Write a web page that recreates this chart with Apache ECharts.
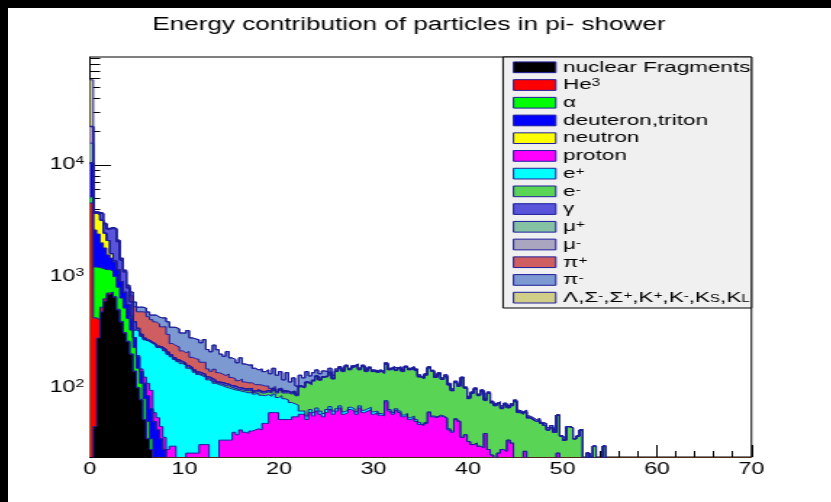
<!DOCTYPE html>
<html><head><meta charset="utf-8">
<script src="https://cdn.jsdelivr.net/npm/echarts@6/dist/echarts.min.js"></script>
<style>
html,body{margin:0;padding:0;background:#fff;width:831px;height:502px;overflow:hidden;}
#stripL{position:absolute;left:0;top:0;width:8px;height:502px;background:#000;}
#stripT{position:absolute;left:0;top:0;width:831px;height:8px;background:#000;}
#chart{position:absolute;left:8px;top:8px;width:553px;height:494px;transform:scaleX(1.45);transform-origin:0 0;}
</style></head>
<body><div id="stripL"></div><div id="stripT"></div><div id="chart"></div>
<script>
// ---- data (per-bin contributions, bin width 0.35, bins starting at 0) ----
const TITLE = 'Energy contribution of particles in pi- shower';
const X_TICKS = [0, 10, 20, 30, 40, 50, 60, 70];
const Y_MAJOR_TICKS = [100, 1000, 10000];
const Y_MINOR_TICKS = [30,40,50,60,70,80,90,200,300,400,500,600,700,800,900,2000,3000,4000,5000,6000,7000,8000,9000,20000,30000,40000,50000,60000,70000,80000,90000];
const SERIES_NAMES = ['nuclear Fragments','He3','α','deuteron,triton','neutron','proton','e+','e-','γ','μ+','μ-','π+','π-','Λ,Σ-,Σ+,K+,K-,KS,KL'];
const LEGEND_LABELS = ['nuclear Fragments','He{sup|3}','α','deuteron,triton','neutron','proton','e{sup|+}','e{sup|-}','γ','μ{sup|+}','μ{sup|-}','π{sup|+}','π{sup|-}','Λ,Σ{sup|-},Σ{sup|+},K{sup|+},K{sup|-},K{sub|S},K{sub|L}'];

const nuclearFragments = [0,45,280,480,600,690,710,650,500,390,310,260,200,140,100,78,52,35,28];
const he3 = [4560,380,130,50,30,20,15,10,8,5,4,3,2,2,1,1];
const alpha = [600,791,790,650,520,440,395,340,292,245,206,157,128,88,49,31,28,15,7];
const deuteronTriton = [5240,1394,1200,820,650,410,340,350,340,260,200,140,90,50,40,30,30,35,30,50,42,35,28];
const neutron = [0,1100,1200,1200,650,540,140,30,10];
const proton = [
 0,0,0,0,0,0,0,0,0,0,
 0,0,0,3,5,8,15,25,30,10,
 12,10,8,28,30,30,22,22,20,26,
 26,26,26,31,31,31,15,15,15,34,
 34,34,34,40,38,42,40,39,41,42,
 43,42,48,48,60,60,60,52,52,52,
 52,55,55,58,58,52,60,56,62,58,
 55,60,64,58,62,66,58,60,64,62,
 58,66,60,62,64,58,60,57,56,75,
 62,58,63,60,55,57,52,54,50,47,
 46,48,60,55,54,56,55,53,42,40,
 52,50,36,38,33,31,32,30,29,39,
 28,25,0,26,28,27,34,32,0,0,
 0,27,0,0,0,0,0,0,0,0,
 0,26];
const ePlus = [
 0,0,0,0,0,0,0,0,0,0,
 0,0,20,47,125,142,145,150,155,180,
 176,180,179,172,160,150,150,143,140,124,
 119,112,106,97,94,87,100,95,92,71,
 68,66,64,56,57,51,52,51,51,46,
 47,44,37,39,24,28,22,33,28,26,
 22,17,15,4,4,4,4,4,4,4,
 4,4,4,4,3,3,3,3,3,3,
 3,3,3,3,3,3,2,2,2,2,
 2,2,2,2,2,2,2,2,2,2,
 1,1,1,1,1,1,1,1,1,1,1];
const eMinus = [
 0,0,0,0,0,0,0,0,0,0,
 0,0,0,2,3,3,4,3,3,3,
 2,3,3,4,3,3,2,3,3,4,
 3,3,2,3,4,3,3,3,2,3,
 3,4,3,3,2,3,3,4,3,3,
 3,4,5,5,6,7,8,10,10,12,
 14,18,15,40,38,55,43,55,60,55,
 65,62,68,58,75,80,79,92,78,88,
 98,76,92,75,83,79,75,81,77,86,
 81,90,78,88,83,94,91,94,91,76,
 74,81,90,85,69,76,63,72,63,53,
 58,53,86,61,47,58,65,55,64,38,
 61,48,69,46,37,43,32,37,75,60,
 58,34,54,52,50,51,48,46,42,44,
 40,31,37,34,45,44,35,37,42,20,
 26,0,30,0,0,30];
const gamma = [
 0,20,100,450,500,560,1100,1270,900,500,
 380,230,150,60,20,10,6,5,5,5,
 5,4,5,6,5,4,5,5,4,5,
 5,4,5,5,4,5,4,5,4,4,
 5,4,4,5,4,4,3,4,4,3,
 3,3,3,3,3,3,3,3,3,3,
 3,3,2,2,2,2,2,2,2,2,
 2,2,2,2,2,2,2,2,2,2,
 2,2,2,2,2,2,2,2,2,2,
 2,2,2,2,2,2,2,2,2,2,
 1,1,1,1,1,1,1,1,1,1,
 1,1,1,1,1,1,1,1,1,1,
 1,1,1,1,1,1,1,1,1,1,1];
const muPlus = [5300,8,5,4];
const muMinus = [6300,6,4,3];
const piPlus = [
 200,40,30,30,30,25,30,30,45,40,
 25,25,80,143,139,179,194,168,151,143,
 139,121,131,92,52,53,54,42,40,53,
 35,38,41,34,37,22,19,29,24,22,
 19,25,19,17,15,20,15,13,12,13,
 11,13,11,9,6,5,3,2,2,1,
 1,1,1];
const piMinus = [
 0,30,20,20,20,15,20,20,25,20,
 15,20,55,54,48,48,47,44,41,59,
 56,71,71,90,100,109,106,96,103,115,
 93,92,90,84,101,73,70,95,83,67,
 63,79,62,59,52,66,51,49,50,43,
 38,42,36,41,35,47,34,40,23,43,
 21,29,16,26,21,27,19,20,17,15,
 16,12,12,8,6,4,3,3,3,3,
 3,4,3,3,2,3,4,3,3,3,
 3,3,4,3,3,2,3,3,3,4,
 3,3,3,2,3,3,3,4,3,3,
 3,2,2,2,3,2,2,2,2,2,
 2,2,2,2,3,2,2,2,2,2,
 2,2,2,2,2,2,1,2,2,2,
 2];
const strangeHadrons = [35800,5,3,2];

// ---- styling ----
const FONT = 'Liberation Sans, Arial, Helvetica, sans-serif';
const OUTLINE = '#1e1e9c';
const FILLS = ['#000000','#ff0000','#00ff00','#0000ff','#ffff00','#ff00ff','#00ffff','#59d454','#5954d9','#85c2a3','#aba6bf','#cf5e61','#7d99d1','#d1cf87'];
const NBINS = 200, BIN_W = 0.35;

const layers = [nuclearFragments, he3, alpha, deuteronTriton, neutron, proton, ePlus, eMinus, gamma, muPlus, muMinus, piPlus, piMinus, strangeHadrons];
const cumulative = [];
let running = new Array(NBINS).fill(0);
layers.forEach(arr => { running = running.map((c, i) => c + (arr[i] || 0)); cumulative.push(running); });

const FLOOR = 0.1;
const seriesList = [];
for (let k = layers.length - 1; k >= 0; k--) {
  const c = cumulative[k];
  const pts = c.map((v, i) => [+(i * BIN_W).toFixed(2), v > 0 ? v : FLOOR]);
  pts.push([NBINS * BIN_W, c[NBINS - 1] > 0 ? c[NBINS - 1] : FLOOR]);
  seriesList.push({
    type: 'line', name: SERIES_NAMES[k], step: 'end', data: pts,
    showSymbol: false, symbol: 'none', clip: true, silent: true,
    color: FILLS[k],
    lineStyle: { color: OUTLINE, width: 1 },
    areaStyle: { color: FILLS[k], opacity: 1, origin: 'start' },
    emphasis: { disabled: true }
  });
}

const chart = echarts.init(document.getElementById('chart'), null, { renderer: 'canvas' });
chart.setOption({
  animation: false,
  backgroundColor: '#ffffff',
  title: {
    text: TITLE, left: 'center', top: 7, padding: 0,
    textStyle: { fontFamily: FONT, fontSize: 18, fontWeight: 'normal', color: '#000', lineHeight: 20 }
  },
  grid: { left: 56.55, top: 49, width: 456.2, height: 400, show: true, borderColor: '#000', borderWidth: 1, backgroundColor: '#fff' },
  xAxis: {
    type: 'value', min: X_TICKS[0], max: X_TICKS[X_TICKS.length - 1], interval: 10,
    axisLine: { show: true, onZero: false, lineStyle: { color: '#000', width: 1 } },
    axisTick: { show: true, inside: true, length: 12, lineStyle: { color: '#000' } },
    minorTick: { show: true, splitNumber: 5, length: 6, lineStyle: { color: '#000' } },
    axisLabel: { fontFamily: FONT, fontSize: 16, color: '#000', margin: 5 },
    splitLine: { show: false }
  },
  yAxis: [
    {
      type: 'log', logBase: 10, min: 24, max: 93000,
      axisLine: { show: true, lineStyle: { color: '#000', width: 1 } },
      axisTick: { show: true, inside: true, length: 14.5, lineStyle: { color: '#000' }, customValues: Y_MAJOR_TICKS },
      axisLabel: {
        customValues: Y_MAJOR_TICKS, margin: 4,
        formatter: v => '10{sup|' + Math.round(Math.log10(v)) + '}',
        fontFamily: FONT, fontSize: 16, color: '#000', lineHeight: 18,
        rich: { sup: { fontFamily: FONT, fontSize: 11, lineHeight: 5, verticalAlign: 'top', color: '#000' } }
      },
      splitLine: { show: false }, minorTick: { show: false }
    },
    {
      type: 'log', logBase: 10, min: 24, max: 93000, position: 'left',
      axisLine: { show: false },
      axisTick: { show: true, inside: true, length: 7, lineStyle: { color: '#000' }, customValues: Y_MINOR_TICKS },
      axisLabel: { show: false },
      splitLine: { show: false }, minorTick: { show: false }
    }
  ],
  graphic: [{
    type: 'rect', z: 3, silent: true,
    shape: { x: 341.4, y: 49, width: 171.4, height: 251 },
    style: { fill: '#f0f0f0', stroke: '#000', lineWidth: 1 }
  }],
  legend: {
    orient: 'vertical', left: 348.1, top: 51.3, padding: 0,
    itemWidth: 29.2, itemHeight: 10.7, itemGap: 1.72, icon: 'rect', selectedMode: false, z: 5,
    data: SERIES_NAMES.map((n, i) => ({ name: n, itemStyle: { color: FILLS[i], borderColor: OUTLINE, borderWidth: 1 } })),
    formatter: n => LEGEND_LABELS[SERIES_NAMES.indexOf(n)],
    textStyle: {
      fontFamily: FONT, fontSize: 15.5, color: '#000', lineHeight: 14,
      rich: {
        sup: { fontFamily: FONT, fontSize: 10.5, lineHeight: 6, verticalAlign: 'top', color: '#000' },
        sub: { fontFamily: FONT, fontSize: 10.5, lineHeight: 6, verticalAlign: 'bottom', color: '#000' }
      }
    }
  },
  series: seriesList
});
</script></body></html>
